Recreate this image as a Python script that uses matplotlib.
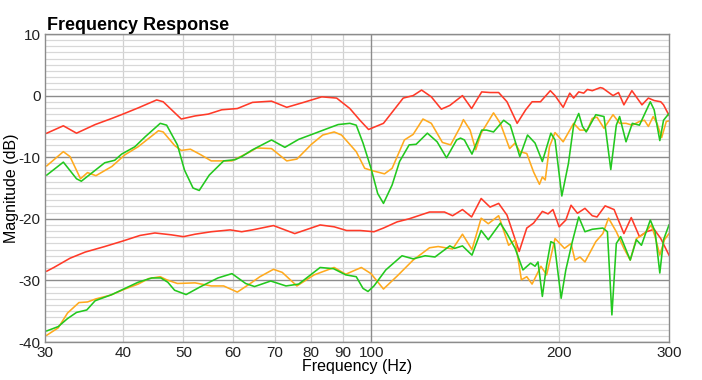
import matplotlib.pyplot as plt
from matplotlib.ticker import FixedLocator, NullFormatter, MultipleLocator

plt.rcParams['font.family'] = ['Liberation Sans', 'DejaVu Sans']

# upper group
red_hi_f = [30.2, 32.1, 33.7, 36.1, 38.4, 40, 42.3, 45.3, 46.4, 49.6, 52.2, 54.8, 57.6, 61, 64.5,
            69.2, 73.2, 77.9, 83.3, 88, 92.4, 95.9, 99, 104.6, 112.5, 116.7, 120.4, 124.8, 129.5,
            133.6, 140, 144.8, 150.3, 155, 160, 165, 171.3, 176.8, 181, 186.7, 193.6, 197, 203,
            208, 211, 215, 219, 222, 226, 232.8, 235, 244, 249, 254, 261.6, 271.5, 278, 284, 291,
            294, 300]
red_hi_db = [-6.1, -4.9, -6.1, -4.7, -3.7, -3.0, -2.0, -0.7, -1.0, -3.8, -3.3, -3.0, -2.3, -2.1, -1.1,
             -0.9, -1.9, -1.1, -0.2, -0.4, -2.1, -4.0, -5.5, -4.5, -0.4, 0.0, 0.9, -0.2, -2.2,
             -1.6, 0.0, -2.1, 0.6, 0.5, 0.5, -1.0, -4.5, -2.3, -1.0, -1.0, 0.8, 0.0, -1.9,
             0.4, -0.4, 0.6, 0.4, 1.0, 0.8, 1.3, 1.2, 0.0, 0.5, -1.5, 0.8, -1.5, -0.4, -0.8, -1.0,
             -1.5, -3.2]

green_hi_f = [30.2, 32.1, 33.7, 34.3, 37.4, 38.8, 39.8, 41.8, 43.4, 45.9, 47, 48.9, 50.2, 51.8, 53,
              55, 58, 60.5, 62, 64.5, 69.2, 72.7, 76.5, 81.3, 85.3, 88.5, 92.4, 94.6, 97, 99.9,
              102.4, 104.6, 108, 111, 115, 118, 123, 127.5, 132, 137, 139, 141, 145, 150.3, 153,
              157, 163, 167, 173, 178, 183, 188, 194, 197, 202, 207, 211, 215, 218, 221, 229, 236,
              242, 247, 250, 256, 262, 269, 280, 284, 290, 294, 300]
green_hi_db = [-12.9, -10.8, -13.5, -13.9, -10.9, -10.5, -9.5, -8.3, -6.7, -4.5, -4.8, -8.0, -12.1, -15.0, -15.4,
               -12.9, -10.6, -10.4, -9.9, -8.8, -7.2, -8.4, -7.1, -6.1, -5.3, -4.7, -4.5, -4.8, -7.7, -11.8,
               -15.9, -17.5, -14.5, -10.7, -8.0, -7.9, -6.1, -7.5, -10.1, -7.2, -6.9, -7.2, -9.5, -5.6, -5.6,
               -5.9, -4.0, -4.8, -9.9, -6.4, -7.7, -10.7, -6.1, -7.2, -16.3, -11.0, -4.8, -2.9, -5.0, -5.9, -3.1, -3.4,
               -12.0, -4.8, -3.4, -7.5, -4.5, -4.8, -1.0, -2.3, -7.3, -4.0, -2.9]

orange_hi_f = [30.2, 32.1, 32.9, 34.2, 35.1, 36.2, 38.4, 40.3, 42.3, 45.6, 46.4, 48.4, 49.6, 51.3, 53.3,
               55.4, 59.8, 64, 65.5, 69.2, 73.2, 76, 80.2, 83.6, 87.2, 89.6, 94.6, 97.6, 100.5, 105,
               108, 113, 116.7, 121, 124.8, 130, 134, 139, 140.5, 144, 147, 150, 157, 161, 166.6, 170,
               173, 177.5, 182, 186, 188, 190, 193, 197, 203, 211, 216, 222, 226, 230, 236, 244, 250,
               256, 262, 269, 274, 278, 283, 287, 292, 297, 300]
orange_hi_db = [-11.4, -9.1, -9.9, -13.5, -12.5, -13.0, -11.5, -9.6, -8.3, -5.7, -5.9, -8.1, -8.9, -8.7, -9.6,
                -10.6, -10.6, -9.1, -8.5, -8.6, -10.6, -10.3, -7.9, -6.4, -5.9, -6.4, -9.1, -11.8, -12.2, -12.7,
                -11.8, -7.2, -6.3, -3.8, -4.5, -7.6, -8.0, -5.0, -3.9, -5.6, -8.8, -6.1, -2.8, -4.5, -8.6, -7.7,
                -9.1, -9.4, -12.4, -14.4, -13.2, -13.7, -8.3, -6.0, -7.5, -4.5, -5.6, -5.6, -3.7, -3.5, -5.3, -3.1, -4.5,
                -4.5, -4.8, -4.2, -4.0, -5.0, -3.4, -4.5, -6.8, -4.2, -4.1]

# lower group
red_lo_f = [30.2, 31, 32.9, 34.8, 37.4, 40, 42.6, 45, 47.8, 50, 52.2, 55.4, 59.4, 62, 64.5,
            69.7, 75.4, 82.8, 87.2, 91.3, 96, 101, 104.6, 110, 115, 124, 131, 135, 140,
            144.8, 150, 155, 160, 165, 172.6, 177.5, 182, 188, 192, 195.5, 200, 205, 209, 214,
            220, 226, 230, 237, 245, 254, 261, 269, 276, 284, 291, 300]
red_lo_db = [-28.5, -27.9, -26.4, -25.4, -24.5, -23.6, -22.7, -22.3, -22.6, -22.9, -22.5, -22.1, -21.8, -22.1, -21.8,
             -21.1, -22.4, -21.0, -21.3, -21.9, -21.9, -22.1, -21.5, -20.5, -20.0, -18.9, -18.9, -19.5, -18.5,
             -19.7, -16.7, -18.1, -17.5, -19.4, -25.3, -21.5, -20.7, -18.8, -19.2, -18.5, -21.3, -20.2, -17.8, -19.1,
             -18.3, -19.5, -19.7, -17.9, -18.5, -22.4, -19.8, -22.9, -22.1, -21.7, -23.2, -25.9]

green_lo_f = [30.2, 31.5, 32.6, 33.7, 35, 36.1, 38.4, 40.3, 42.3, 44.5, 46, 47.2, 48.4, 50.5, 53.3,
              56.8, 59.8, 62.9, 65, 69, 73, 76.5, 82.8, 87, 91, 94.6, 97, 98.8, 101, 105.5,
              112, 116.7, 122, 126.5, 133.6, 136, 140, 145, 150, 154, 161, 165, 170, 175, 180, 183,
              185, 188, 191, 194, 196.5, 201.5, 205, 210, 215, 220, 226, 235, 239, 243, 247, 251, 260,
              266, 271, 280, 285, 290, 294, 300]
green_lo_db = [-38.2, -37.5, -36.2, -35.2, -34.8, -33.3, -32.3, -31.3, -30.3, -29.6, -29.6, -30.3, -31.6, -32.3, -31.0,
               -29.6, -28.9, -30.5, -31.0, -30.1, -30.9, -30.6, -27.9, -28.1, -29.1, -29.4, -31.3, -31.8, -30.9, -28.3,
               -26.0, -26.5, -26.0, -26.2, -24.4, -24.8, -24.4, -25.9, -21.9, -23.4, -20.7, -22.4, -24.8, -28.3, -27.2, -27.7,
               -27.0, -32.6, -27.5, -23.7, -24.0, -32.9, -28.3, -23.7, -19.7, -22.1, -21.7, -21.5, -22.1, -35.6, -24.0, -22.9, -26.7,
               -23.4, -24.3, -20.2, -22.1, -28.8, -23.4, -21.0]

orange_lo_f = [30.2, 31.5, 32.6, 34, 35.1, 36.2, 38.2, 40.3, 42.3, 44, 45.9, 47, 48.9, 52.2, 55.4,
               58, 61, 64, 66.3, 69.7, 72, 76, 81, 87.2, 91, 96.4, 99.9, 104.6, 110, 116.7,
               124, 128, 135, 140, 145, 150, 154, 160, 166, 170, 174, 177.5, 181, 187, 191, 197,
               204, 209, 212, 216, 220, 229, 235, 240, 247, 254, 260, 266, 274, 281, 285, 290, 295, 300]
orange_lo_db = [-38.9, -37.7, -35.3, -33.6, -33.5, -33.0, -32.4, -31.4, -30.6, -29.7, -29.4, -29.9, -30.5, -30.4, -30.9,
                -30.9, -31.9, -30.5, -29.4, -28.2, -28.7, -30.9, -29.1, -27.9, -29.0, -27.9, -28.9, -31.4, -29.3, -26.7,
                -24.7, -24.5, -24.9, -22.5, -25.0, -19.9, -20.8, -19.5, -24.3, -23.4, -29.9, -29.4, -30.6, -27.7, -29.1, -23.2,
                -24.8, -24.0, -26.7, -26.2, -27.0, -23.7, -22.4, -19.9, -22.1, -24.8, -26.7, -23.2, -22.4, -21.0, -22.9, -25.9, -23.4, -22.4]

x_ticks = [30, 40, 50, 60, 70, 80, 90, 100, 200, 300]
y_ticks = [-40, -30, -20, -10, 0, 10]

RED = '#ff3a28'
GREEN = '#22c81e'
ORANGE = '#ffaa1e'

fig = plt.figure(figsize=(7.02, 3.8), dpi=100)
ax = fig.add_axes([0.0641, 0.1, 0.8889, 0.8105])

ax.set_xscale('log')
ax.set_xlim(30, 300)
ax.set_ylim(-40, 10)

# grid
ax.yaxis.set_minor_locator(MultipleLocator(1))
ax.grid(True, which='minor', axis='y', color='#d8d8d8', linewidth=0.9)
ax.grid(True, which='major', axis='y', color='#8c8c8c', linewidth=1.0)
for f in x_ticks[1:-1]:
    if f == 100:
        ax.axvline(f, color='#8c8c8c', linewidth=1.0, zorder=0.6)
    else:
        ax.axvline(f, color='#d0d0d0', linewidth=0.9, zorder=0.5)
ax.set_axisbelow(True)

for f, db, c in [(red_hi_f, red_hi_db, RED), (orange_hi_f, orange_hi_db, ORANGE),
                 (green_hi_f, green_hi_db, GREEN), (red_lo_f, red_lo_db, RED),
                 (orange_lo_f, orange_lo_db, ORANGE), (green_lo_f, green_lo_db, GREEN)]:
    ax.plot(f, db, color=c, linewidth=1.15, solid_joinstyle='round')

ax.xaxis.set_major_locator(FixedLocator(x_ticks))
ax.xaxis.set_minor_formatter(NullFormatter())
ax.xaxis.set_minor_locator(FixedLocator([]))
ax.set_xticklabels([str(v) for v in x_ticks])
ax.set_yticks(y_ticks)
ax.set_yticklabels([str(v) for v in y_ticks])
ax.tick_params(axis='both', which='both', length=0, labelsize=11, colors='#222222', pad=3)

for s in ax.spines.values():
    s.set_color('#8c8c8c')
    s.set_linewidth(1.0)

ax.set_xlabel('Frequency (Hz)', fontsize=11.5)
ax.xaxis.set_label_coords(0.5, -0.055)
ax.set_ylabel('Magnitude (dB)', fontsize=11.5)
ax.yaxis.set_label_coords(-0.042, 0.5)
ax.set_title('Frequency Response', loc='left', fontsize=13, fontweight='bold', pad=3, x=0.003)

fig.savefig('out.png', dpi=100)
